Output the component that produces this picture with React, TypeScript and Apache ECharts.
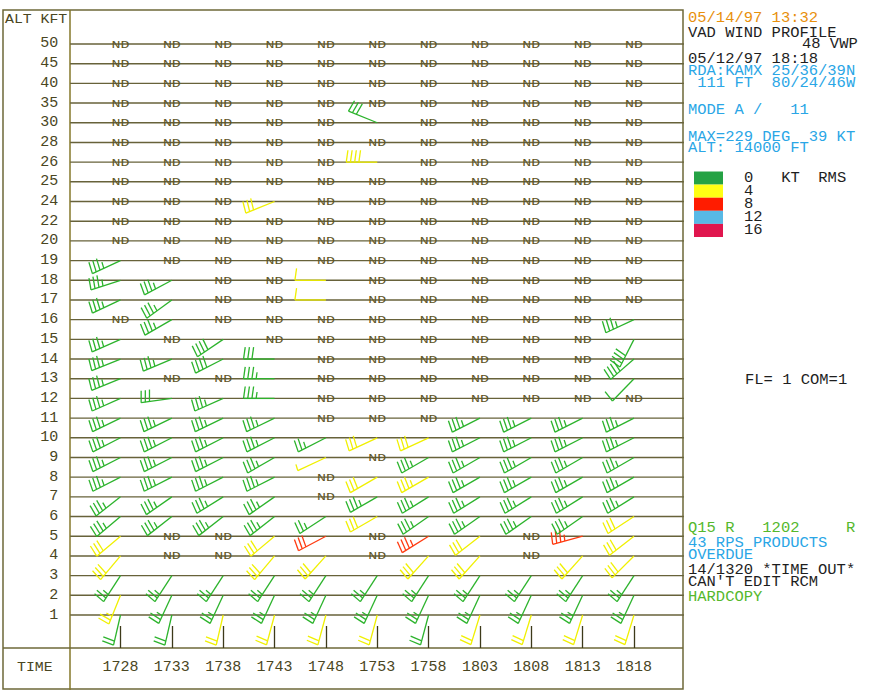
import React, { useEffect, useRef } from 'react';
import * as echarts from 'echarts';

const TIMES = ['1728', '1733', '1738', '1743', '1748', '1753', '1758', '1803', '1808', '1813', '1818'];
const LEVELS = ['1', '2', '3', '4', '5', '6', '7', '8', '9', '10', '11', '12', '13', '14', '15', '16', '17', '18', '19', '20', '22', '24', '25', '26', '28', '30', '35', '40', '45', '50'];

// Each column: level 1 (bottom) .. level 50 (top); [direction deg, speed kt, rms kt]; null = ND
type W = [number, number, number] | null;
const N: W = null;

const W1728: W[] = [
  [193, 20, 0], [202, 25, 4], [213, 25, 0], [220, 30, 4], [230, 30, 4], [230, 35, 0], [232, 35, 0], [243, 35, 0], [243, 35, 0], [243, 35, 0],
  [244, 35, 0], [246, 35, 0], [248, 35, 0], [248, 35, 0], [246, 35, 0], N, [245, 35, 0], [252, 35, 0], [245, 35, 0], N,
  N, N, N, N, N, N, N, N, N, N,
];
const W1733: W[] = [
  [193, 20, 0], [205, 25, 0], [213, 25, 0], N, N, [232, 35, 0], [235, 35, 0], [243, 35, 0], [243, 35, 0], [243, 35, 0],
  [244, 35, 0], [262, 30, 0], N, [247, 35, 0], N, [240, 35, 0], [234, 35, 0], [242, 35, 0], N, N,
  N, N, N, N, N, N, N, N, N, N,
];
const W1738: W[] = [
  [193, 20, 4], [205, 25, 0], [213, 25, 0], N, N, [232, 35, 0], [238, 35, 0], [243, 35, 0], [243, 35, 0], [243, 35, 0],
  [244, 35, 0], [246, 35, 0], N, [243, 40, 0], [236, 40, 0], N, N, N, N, N,
  N, N, N, N, N, N, N, N, N, N,
];
const W1743: W[] = [
  [195, 20, 4], [205, 25, 0], [213, 25, 0], [220, 30, 4], [230, 30, 4], [232, 35, 0], [235, 35, 0], [243, 35, 0], [240, 35, 0], [243, 35, 0],
  [244, 35, 0], [270, 35, 0], [270, 35, 0], [270, 30, 0], N, N, N, N, N, N,
  N, [248, 30, 4], N, N, N, N, N, N, N, N,
];
const W1748: W[] = [
  [195, 20, 4], [205, 25, 0], [213, 25, 0], [222, 30, 4], [242, 30, 8], [237, 25, 0], N, N, [245, 5, 4], [243, 25, 0],
  N, N, N, N, N, N, [270, 10, 4], [270, 10, 4], N, N,
  N, N, N, N, N, N, N, N, N, N,
];
const W1753: W[] = [
  [195, 20, 4], [205, 25, 0], [213, 25, 0], N, N, [240, 30, 4], [240, 35, 0], [240, 30, 4], N, [245, 30, 4],
  N, N, N, N, N, N, N, N, N, N,
  N, N, N, [270, 40, 4], N, [292, 30, 0], N, N, N, N,
];
const W1758: W[] = [
  [195, 20, 0], [205, 25, 0], [213, 25, 0], [222, 30, 4], [238, 35, 8], [235, 35, 0], [238, 35, 0], [240, 35, 4], [240, 35, 0], [245, 30, 4],
  N, N, N, N, N, N, N, N, N, N,
  N, N, N, N, N, N, N, N, N, N,
];
const W1803: W[] = [
  [197, 20, 4], [205, 25, 0], [213, 25, 0], [222, 30, 4], [232, 30, 4], [235, 35, 0], [238, 35, 0], [240, 35, 0], [240, 35, 0], [243, 35, 0],
  [243, 35, 0], N, N, N, N, N, N, N, N, N,
  N, N, N, N, N, N, N, N, N, N,
];
const W1808: W[] = [
  [197, 20, 4], [205, 25, 0], [213, 25, 0], N, N, [235, 35, 0], [238, 35, 0], [240, 35, 0], [240, 35, 0], [243, 35, 0],
  [243, 35, 0], N, N, N, N, N, N, N, N, N,
  N, N, N, N, N, N, N, N, N, N,
];
const W1813: W[] = [
  [197, 20, 4], [205, 25, 0], [213, 25, 0], [222, 30, 4], [255, 35, 8], [235, 35, 0], [238, 35, 0], [240, 35, 0], [240, 35, 0], [243, 35, 0],
  [243, 35, 0], N, N, N, N, N, N, N, N, N,
  N, N, N, N, N, N, N, N, N, N,
];
const W1818: W[] = [
  [197, 20, 4], [205, 25, 0], [213, 25, 0], [225, 30, 4], [232, 30, 4], [237, 30, 4], [238, 35, 0], [240, 35, 0], [240, 35, 0], [243, 35, 0],
  [243, 35, 0], N, [224, 10, 0], [229, 40, 0], [207, 40, 0], [245, 35, 0], N, N, N, N,
  N, N, N, N, N, N, N, N, N, N,
];
const COLUMNS = [W1728, W1733, W1738, W1743, W1748, W1753, W1758, W1803, W1808, W1813, W1818];

const RMS_LEVELS = ['0', '4', '8', '12', '16'];
const RMS_COLORS = ['#25a244', '#ffff14', '#ff1c00', '#58b9e6', '#e0164e'];
const BARB_COLORS: Record<number, string> = { 0: '#2cb32c', 4: '#f0f000', 8: '#ff3a10' };

const FONT = "'Liberation Mono', 'DejaVu Sans Mono', monospace";
const BLACK = '#1e1e1e';
const ORANGE = '#e8900c';
const BLUE = '#2aa6e6';
const GREEN = '#55b82c';
const OLIVE = '#4a4622';
const LINE = '#67623a';
const FRAME = '#6e6838';

const f = (s: number) => `${s}px ${FONT}`;

export default function App() {
  const ref = useRef<HTMLDivElement>(null);
  useEffect(() => {
    const chart = echarts.init(ref.current!, null, { renderer: 'svg' });
    const barbData: number[][] = [];
    const ndData: number[][] = [];
    COLUMNS.forEach((col, i) =>
      col.forEach((w, j) => {
        if (w) barbData.push([i, j, w[0], w[1], w[2]]);
        else ndData.push([i, j]);
      })
    );

    const rowH = 19.69;
    const yMin = -(648 - 615) / rowH;
    const yMax = (615 - 10) / rowH;

    // monospace panel text: 14px glyphs stretched to a 9.3px character cell
    const txt = (text: string, x: number, y: number, fill: string, size = 14, adv = 9.3) => ({
      type: 'text',
      x,
      y,
      scaleX: adv / (size * 0.6),
      silent: true,
      style: { text, fill, font: f(size), verticalAlign: 'middle', align: 'left' },
    });

    const graphic: any[] = [
      { type: 'rect', shape: { x: 3, y: 10, width: 680, height: 679 }, style: { fill: 'none', stroke: FRAME, lineWidth: 1.5 } },
      { type: 'line', shape: { x1: 70, y1: 10, x2: 70, y2: 690 }, style: { stroke: '#85772a', lineWidth: 1.5 } },
      { type: 'line', shape: { x1: 3, y1: 648, x2: 683, y2: 648 }, style: { stroke: FRAME, lineWidth: 1.5 } },
      txt('ALT KFT', 5, 19.5, OLIVE, 13.5, 8.9),
      txt('TIME', 17, 667.5, OLIVE, 13.5, 8.9),
      txt('05/14/97 13:32', 688, 18.7, ORANGE),
      txt('VAD WIND PROFILE', 688, 33, BLACK),
      txt('48 VWP', 802, 44.7, BLACK),
      txt('05/12/97 18:18', 688, 59, BLACK),
      txt('RDA:KAMX 25/36/39N', 688, 71.7, BLUE),
      txt(' 111 FT  80/24/46W', 688, 83.7, BLUE),
      txt('MODE A /   11', 688, 110.5, BLUE),
      txt('MAX=229 DEG  39 KT', 688, 137, BLUE),
      txt('ALT: 14000 FT', 688, 148.7, BLUE),
      txt('FL= 1 COM=1', 745, 380, BLACK),
      txt('Q15 R   1202     R', 688, 528, GREEN),
      txt('43 RPS PRODUCTS', 688, 543, BLUE),
      txt('OVERDUE', 688, 555, BLUE),
      txt('14/1320 *TIME OUT*', 688, 570, BLACK),
      txt("CAN'T EDIT RCM", 688, 582, BLACK),
      txt('HARDCOPY', 688, 597, GREEN),
    ];
    RMS_LEVELS.forEach((lv, k) => {
      const y0 = 171.5 + k * 13.1;
      graphic.push({ type: 'rect', shape: { x: 694, y: y0, width: 29, height: 13.1 }, style: { fill: RMS_COLORS[k] } });
      graphic.push(txt(k === 0 ? `${lv}   KT  RMS` : lv, 744, y0 + 6.3, BLACK));
    });

    const option: any = {
      animation: false,
      grid: { left: 69.15, right: 195.65, top: 10, bottom: 42 },
      xAxis: {
        type: 'value',
        min: -1,
        max: 11,
        axisLine: { show: false, onZero: false },
        splitLine: { show: false },
        axisTick: {
          show: true,
          customValues: TIMES.map((_, i) => i),
          inside: true,
          length: 22,
          lineStyle: { color: '#3d3a1a', width: 1.3 },
        },
        axisLabel: {
          customValues: TIMES.map((_, i) => i),
          formatter: (v: number) => TIMES[Math.round(v)] ?? '',
          margin: 12,
          color: OLIVE,
          fontFamily: FONT,
          fontSize: 15,
        },
      },
      yAxis: {
        type: 'value',
        min: yMin,
        max: yMax,
        axisLine: { show: false, onZero: false },
        splitLine: { show: false },
        axisTick: { show: false },
        axisLabel: {
          customValues: LEVELS.map((_, j) => j),
          formatter: (v: number) => LEVELS[Math.round(v)] ?? '',
          margin: 11,
          color: OLIVE,
          fontFamily: FONT,
          fontSize: 15,
        },
      },
      graphic,
      series: [
        {
          type: 'custom',
          coordinateSystem: 'cartesian2d',
          encode: { x: 0, y: 1 },
          data: LEVELS.map((_, j) => [0, j]),
          silent: true,
          renderItem: (params: any, api: any) => {
            const y = api.coord([0, api.value(1)])[1];
            const cs = params.coordSys;
            return {
              type: 'line',
              shape: { x1: cs.x + 1, y1: y, x2: cs.x + cs.width - 1.5, y2: y },
              style: { stroke: LINE, lineWidth: 1.4 },
            };
          },
        },
        {
          type: 'custom',
          coordinateSystem: 'cartesian2d',
          encode: { x: 0, y: 1 },
          data: ndData,
          silent: true,
          renderItem: (_params: any, api: any) => {
            const p = api.coord([api.value(0), api.value(1)]);
            return {
              type: 'text',
              x: p[0],
              y: p[1] + 0.5,
              scaleX: 1.3,
              style: { text: 'ND', fill: '#5f5628', font: f(11.5), align: 'center', verticalAlign: 'middle' },
            };
          },
        },
        {
          type: 'custom',
          coordinateSystem: 'cartesian2d',
          encode: { x: 0, y: 1 },
          data: barbData,
          silent: true,
          renderItem: (_params: any, api: any) => {
            const o = api.coord([api.value(0), api.value(1)]);
            const th = (api.value(2) * Math.PI) / 180;
            const spd = Math.round(api.value(3) / 5) * 5;
            const color = BARB_COLORS[api.value(4)] || '#2cb32c';
            const ux = Math.sin(th);
            const uy = -Math.cos(th);
            const px = -uy;
            const py = ux;
            const a = (8 * Math.PI) / 180;
            const fx = px * Math.cos(a) - ux * Math.sin(a);
            const fy = py * Math.cos(a) - uy * Math.sin(a);
            const L = 31;
            const FL = 12;
            const HL = 6.5;
            const SP = 4.2;
            const ex = o[0] + L * ux;
            const ey = o[1] + L * uy;
            const style = { stroke: color, lineWidth: 1.3, fill: 'none' };
            const children: any[] = [{ type: 'line', shape: { x1: o[0], y1: o[1], x2: ex, y2: ey }, style }];
            const full = Math.floor(spd / 10);
            const half = spd % 10 >= 5 ? 1 : 0;
            let k = 0;
            for (let n = 0; n < full; n++, k++) {
              const bx = ex - k * SP * ux;
              const by = ey - k * SP * uy;
              children.push({ type: 'line', shape: { x1: bx, y1: by, x2: bx + FL * fx, y2: by + FL * fy }, style });
            }
            if (half) {
              const bx = ex - k * SP * ux;
              const by = ey - k * SP * uy;
              children.push({ type: 'line', shape: { x1: bx, y1: by, x2: bx + HL * fx, y2: by + HL * fy }, style });
            }
            return { type: 'group', children };
          },
        },
      ],
    };
    chart.setOption(option);
    return () => chart.dispose();
  }, []);
  return <div ref={ref} style={{ position: 'fixed', left: 0, top: 0, width: 881, height: 690, background: '#fff' }} />;
}
